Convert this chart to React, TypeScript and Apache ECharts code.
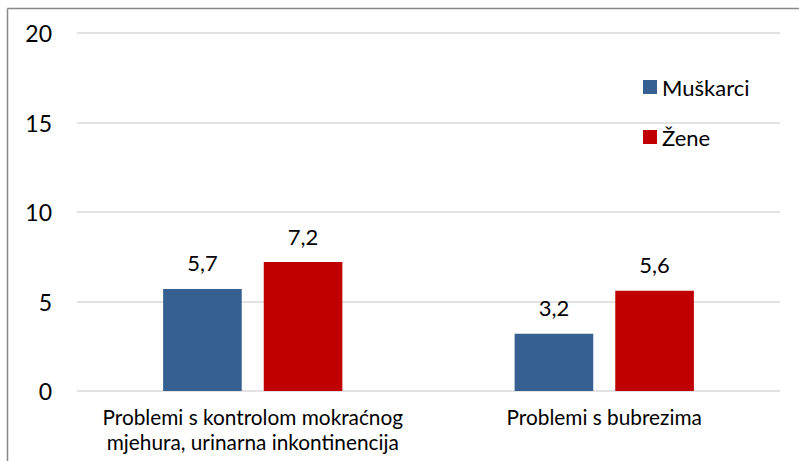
import React, { useEffect, useRef } from "react";
import * as echarts from "echarts";

const categories = [
  "Problemi s kontrolom mokraćnog\nmjehura, urinarna inkontinencija",
  "Problemi s bubrezima",
];
const muskarci = [5.7, 3.2];
const zene = [7.2, 5.6];
const seriesNames = ["Muškarci", "Žene"];
const yTicks = { min: 0, max: 20, interval: 5 };

const FONT = "Lato, 'Open Sans', sans-serif";

export default function App() {
  const ref = useRef<HTMLDivElement>(null);
  useEffect(() => {
    if (!ref.current) return;
    const chart = echarts.init(ref.current, null, { renderer: "svg" });
    const fmt = (p: any) => String(p.value).replace(".", ",");
    chart.setOption({
      animation: false,
      backgroundColor: "#ffffff",
      textStyle: { fontFamily: FONT },
      graphic: [
        { type: "line", shape: { x1: 7.5, y1: 8.5, x2: 7.5, y2: 461 }, style: { stroke: "#898989", lineWidth: 1.5 } },
        { type: "line", shape: { x1: 7.5, y1: 8.5, x2: 799, y2: 8.5 }, style: { stroke: "#898989", lineWidth: 1.5 } },
      ],
      grid: { left: 77, right: 19, top: 33, bottom: 70, containLabel: false },
      legend: {
        orient: "vertical",
        left: 643,
        top: 76,
        padding: 0,
        itemWidth: 14,
        itemHeight: 14,
        itemGap: 28,
        icon: "rect",
        textStyle: { fontFamily: FONT, fontSize: 22, color: "#000", lineHeight: 22 },
        data: seriesNames,
      },
      xAxis: {
        type: "category",
        data: categories,
        axisLine: { show: false },
        axisTick: { show: false },
        axisLabel: {
          interval: 0,
          fontFamily: FONT,
          fontSize: 20.8,
          color: "#000",
          lineHeight: 25,
          margin: 13,
        },
      },
      yAxis: {
        type: "value",
        min: yTicks.min,
        max: yTicks.max,
        interval: yTicks.interval,
        axisLine: { show: false },
        axisTick: { show: false },
        splitLine: { lineStyle: { color: "#d9d9d9", width: 1.5 } },
        axisLabel: { fontFamily: FONT, fontSize: 23, color: "#000", margin: 25 },
      },
      series: [
        {
          name: seriesNames[0],
          type: "bar",
          data: muskarci,
          barGap: "28%",
          barCategoryGap: "49%",
          itemStyle: { color: "#376092" },
          label: { show: true, position: "top", distance: 15, formatter: fmt, fontFamily: FONT, fontSize: 22, color: "#000" },
        },
        {
          name: seriesNames[1],
          type: "bar",
          data: zene,
          barGap: "28%",
          barCategoryGap: "49%",
          itemStyle: { color: "#C00000" },
          label: { show: true, position: "top", distance: 15, formatter: fmt, fontFamily: FONT, fontSize: 22, color: "#000" },
        },
      ],
    });
    return () => chart.dispose();
  }, []);
  return <div ref={ref} style={{ width: 799, height: 461, position: "absolute", left: 0, top: 0 }} />;
}
